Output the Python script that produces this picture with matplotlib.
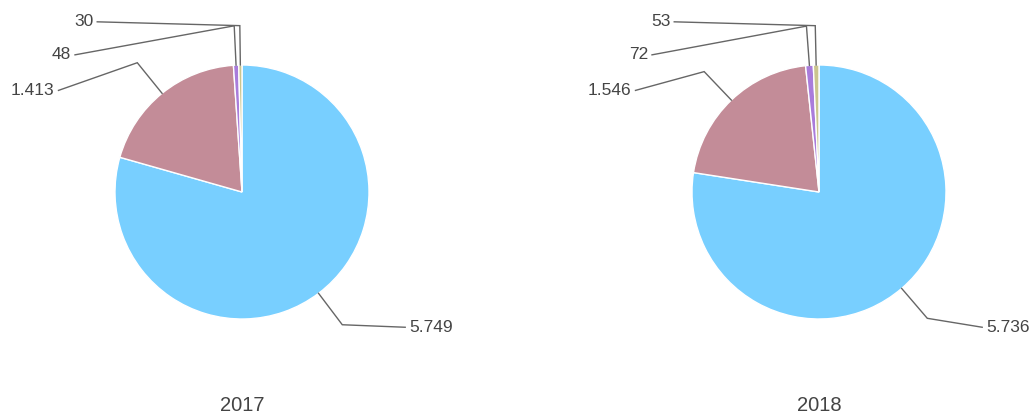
import numpy as np
import matplotlib
matplotlib.use('Agg')
import matplotlib.pyplot as plt

# ---- Daten ----
years = ['2017', '2018']
values_2017 = [5749, 1413, 48, 30]
values_2018 = [5736, 1546, 72, 53]
colors = ['#78CFFF', '#C38C98', '#A97CDB', '#CBC58E']

# ---- Layout (Pixel) ----
W, H = 1036, 419
R = 127
centers = [(242, 227), (819, 227)]
label_dx = [1.285, -1.445, -1.315, -1.14]   # Labelende relativ zum Mittelpunkt, in R
label_dy = [-1.065, 0.80, 1.08, 1.34]
elbow_r = 1.31

plt.rcParams['font.family'] = ['Liberation Sans', 'DejaVu Sans']

fig = plt.figure(figsize=(W / 100, H / 100), dpi=100)
ax = fig.add_axes([0, 0, 1, 1])


def fmt(v):
    return f'{v:,}'.replace(',', '.')


for year, vals, (cx, cy) in zip(years, [values_2017, values_2018], centers):
    wedges, _ = ax.pie(vals, colors=colors, startangle=90, counterclock=False,
                       radius=R, center=(cx, cy),
                       wedgeprops=dict(edgecolor='white', linewidth=1))
    for w, v, dx, dy in zip(wedges, vals, label_dx, label_dy):
        a = np.deg2rad((w.theta1 + w.theta2) / 2)
        x0, y0 = cx + R * np.cos(a), cy + R * np.sin(a)
        x1, y1 = cx + elbow_r * R * np.cos(a), cy + elbow_r * R * np.sin(a)
        x2, y2 = cx + dx * R, cy + dy * R
        ax.plot([x0, x1, x2], [y0, y1, y2], color='#666666', lw=1,
                solid_joinstyle='miter')
        ha = 'left' if dx > 0 else 'right'
        off = 4 if dx > 0 else -4
        ax.text(x2 + off, y2, fmt(v), ha=ha, va='center', fontsize=12.5,
                color='#444444')
    ax.text(cx, 14, year, ha='center', va='center', fontsize=14.5,
            color='#444444')

ax.set_xlim(0, W)
ax.set_ylim(0, H)
ax.set_aspect('equal')
ax.axis('off')

fig.savefig('out.png', dpi=100)
